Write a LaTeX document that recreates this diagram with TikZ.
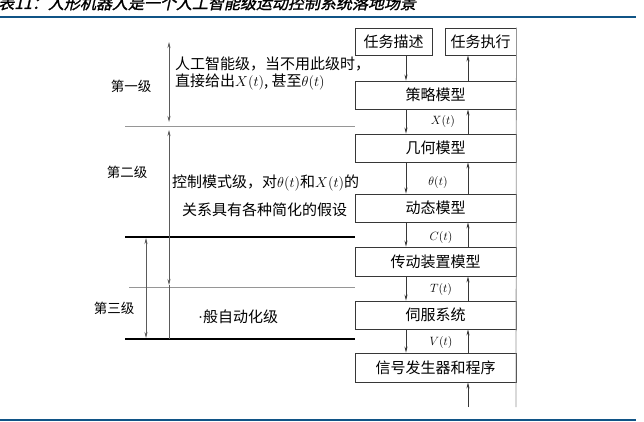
\documentclass[tikz,border=0pt]{standalone}
\usepackage{fontspec}
\usetikzlibrary{arrows.meta}
\newfontfamily\cjk{Noto Sans CJK SC}
\newfontfamily\lat{Liberation Serif}
\newfontfamily\cjktitle[FakeSlant=0.22,FakeBold=1.2]{Noto Sans CJK SC}
\definecolor{titleblue}{RGB}{16,84,134}
\definecolor{boxc}{RGB}{55,55,55}
\definecolor{thinc}{RGB}{150,150,150}
\definecolor{vc}{RGB}{90,90,90}
\newcommand{\mth}[1]{{\fontsize{13.5}{15}\selectfont$#1$}}
\tikzset{
  x=1pt, y=-1pt,
  box/.style={draw=boxc, line width=0.9pt, minimum width=161pt, minimum height=28pt, inner sep=0pt, font=\cjk\fontsize{15}{18}\selectfont},
  arr/.style={draw=boxc, line width=0.7pt, -{Stealth[length=6pt,width=3pt]}},
  varr/.style={draw=vc, line width=0.6pt, {Stealth[length=6pt,width=3pt]}-{Stealth[length=6pt,width=3pt]}},
  vline/.style={draw=vc, line width=0.6pt},
  gline/.style={draw=thinc, line width=0.8pt},
  kline/.style={draw=black, line width=1.1pt},
  blueline/.style={draw=titleblue, line width=1.6pt},
  lab/.style={inner sep=0pt, font=\fontsize{13}{15}\selectfont},
  ltext/.style={inner sep=0pt, font=\cjk\fontsize{15}{18}\selectfont},
  lvl/.style={inner sep=0pt, font=\cjk\fontsize{13.5}{16}\selectfont}
}
\begin{document}
\begin{tikzpicture}
\useasboundingbox (0,0) rectangle (644,422);
\fill[white] (0,0) rectangle (644,422);
% title and rules
\node[anchor=base west, inner sep=0pt, font=\cjktitle\fontsize{16}{18}\selectfont] (title) at (-2,9) {表11：人形机器人是一个人工智能级运动控制系统落地场景};
\coordinate (tl1) at (0,17); \coordinate (tr1) at (636,17);
\draw[blueline] (tl1) -- (tr1);
\coordinate (bl1) at (0,420); \coordinate (br1) at (636,420);
\draw[blueline] (bl1) -- (br1);
% boxes
\node[box, minimum width=77pt, minimum height=27pt] (desc) at (393.5,41.5) {任务描述};
\node[box, minimum width=71pt, minimum height=27pt] (exec) at (480.5,41.5) {任务执行};
\node[box] (b1) at (435.5,95) {策略模型};
\node[box] (b2) at (435.5,148) {几何模型};
\node[box] (b3) at (435.5,208) {动态模型};
\node[box, minimum height=29pt] (b4) at (435.5,261.5) {传动装置模型};
\node[box] (b5) at (435.5,315) {伺服系统};
\node[box, minimum height=29pt] (b6) at (435.5,367.5) {信号发生器和程序};
% right arrows
\coordinate (dx) at (406,0); \coordinate (ux) at (468,0);
\draw[arr] (desc.south -| dx) -- (b1.north -| dx);
\draw[arr] (b1.north -| ux) -- (exec.south -| ux);
\foreach \a/\b in {b1/b2,b2/b3,b3/b4,b4/b5,b5/b6} {
  \draw[arr] (\a.south -| dx) -- (\b.north -| dx);
  \draw[arr] (\b.north -| ux) -- (\a.south -| ux);
}
\coordinate (inb) at (468,407);
\draw[arr] (inb) -- (b6.south -| ux);
\coordinate (rb) at (516,407);
\draw[gline] (exec.north east) -- (rb);
% signal labels
\node[lab] (lx) at (443,122) {$X(t)$};
\node[lab] (lth) at (438,182) {$\theta(t)$};
\node[lab] (lc) at (441,237) {$C(t)$};
\node[lab] (lt) at (441,289) {$T(t)$};
\node[lab] (lv) at (441,342) {$V(t)$};
% left horizontal lines
\coordinate (h1) at (125,126); \draw[gline] (h1) -- (h1 -| b1.west);
\coordinate (h2) at (125,237); \draw[kline] (h2) -- (h2 -| b1.west);
\coordinate (h3) at (129,287); \draw[gline] (h3) -- (h3 -| b1.west);
\coordinate (h4) at (125,339); \draw[kline] (h4) -- (h4 -| b1.west);
% level arrows
\coordinate (v1a) at (169,42); \coordinate (v1b) at (169,122);
\draw[varr] (v1a) -- (v1b);
\coordinate (v2a) at (169,130); \coordinate (v2b) at (169,285); \coordinate (v2c) at (169,339);
\draw[varr] (v2a) -- (v2b);
\draw[vline] (v2b) -- (v2c);
\coordinate (v3a) at (146,238); \coordinate (v3b) at (146,338);
\draw[varr] (v3a) -- (v3b);
% texts
\node[lvl] (L1) at (131,86) {第一级};
\node[ltext, anchor=west] (t1a) at (175,64) {人工智能级，当不用此级时，};
\node[ltext, anchor=west] (t1b) at (175,82) {直接给出\mth{X(t)}, 甚至\mth{\theta(t)}};
\node[lvl] (L2) at (127,172) {第二级};
\node[ltext, anchor=west] (t2a) at (172,183) {控制模式级，对\mth{\theta(t)}和\mth{X(t)}的};
\node[ltext, anchor=west] (t2b) at (182,210) {关系具有各种简化的假设};
\node[lvl] (L3) at (114,308) {第三级};
\node[ltext, anchor=west] (t3) at (198,317) {{\lat ·}般自动化级};
\end{tikzpicture}
\end{document}
